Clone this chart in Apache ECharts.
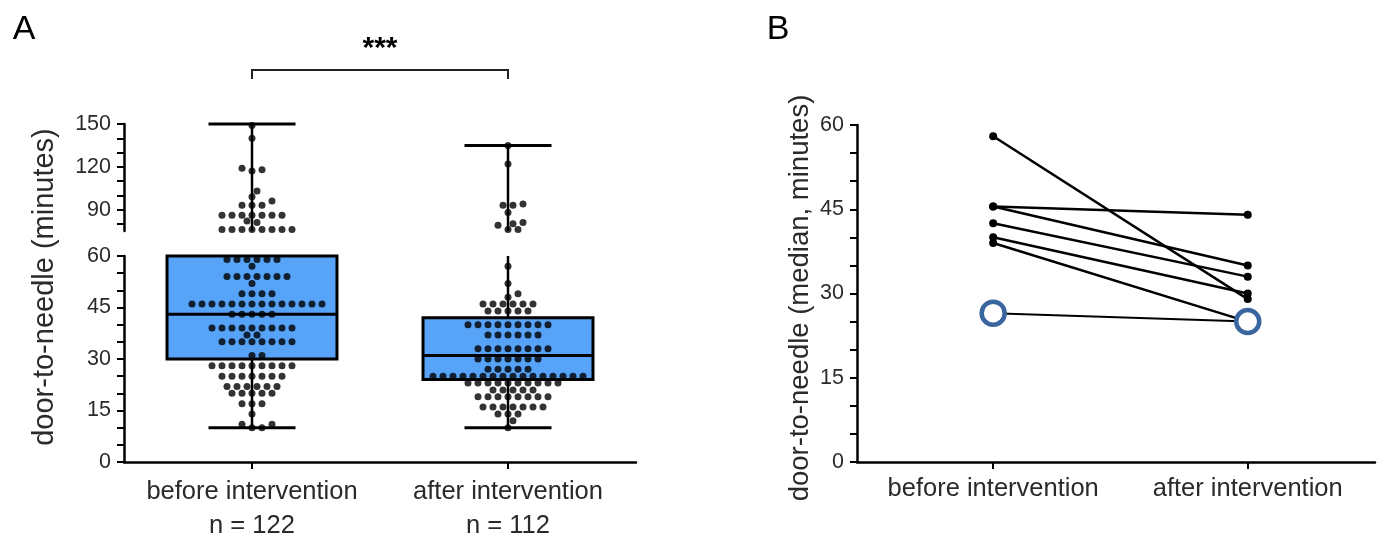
<!DOCTYPE html>
<html>
<head>
<meta charset="utf-8">
<script src="https://cdn.jsdelivr.net/npm/echarts@6/dist/echarts.min.js"></script>
<style>html,body{margin:0;padding:0;background:#fff;}#c{width:1383px;height:538px;}</style>
</head>
<body>
<div id="c"></div>
<script>
// ---------- DATA ----------
const categories = ['before intervention', 'after intervention'];
const nLabels = ['n = 122', 'n = 112'];
// box stats: [min, Q1, median, Q3, max]
const boxBefore = [10, 30, 43, 60, 150];
const boxAfter = [10, 24, 31, 42, 135];
// individual door-to-needle times (minutes)
const dotsBefore = [
  149, 140, 119, 118, 117, 103, 99, 96, 93, 93, 93,
  86, 86, 86, 86, 86, 86, 86, 82, 81,
  76, 76, 76, 76, 76, 76, 76, 76,
  59, 59, 59, 59, 59, 59, 57, 54, 54, 54, 54, 54, 54, 54, 52,
  49, 49, 49, 49,
  46, 46, 46, 46, 46, 46, 46, 46, 46, 46, 46, 46, 46, 46,
  43, 43, 43, 43, 43,
  39, 39, 39, 39, 39, 39, 39, 39, 39, 37, 37,
  35, 35, 35, 35, 35, 35, 35, 35, 31, 31,
  28, 28, 28, 28, 28, 28, 28, 28, 28,
  25, 25, 25, 25, 25, 25, 25,
  22, 22, 22, 22, 22, 22, 20, 20, 20, 20, 20,
  17, 17, 17, 14, 11, 11, 10, 10
];
const dotsAfter = [
  135, 122, 94, 93, 93, 88, 81, 80, 79, 76, 76,
  57, 52, 49, 48,
  46, 46, 46, 46, 46, 46, 44, 44, 44, 44, 44,
  40, 40, 40, 40, 40, 40, 40, 40, 40,
  37, 37, 37, 37, 37, 37,
  33, 33, 33, 33, 33, 33, 33, 33,
  30, 30, 30, 30, 30, 30, 30,
  27, 27, 27, 27, 27,
  25, 25, 25, 25, 25, 25, 25, 25, 25, 25, 25, 25, 25, 25, 25, 25,
  23, 23, 23, 23, 23, 23, 23, 23, 23, 23,
  21, 21, 21, 21, 21,
  19, 19, 19, 19, 19, 19, 19, 19,
  16, 16, 16, 16, 16, 16, 16,
  14, 14, 14, 12, 10
];
// panel B: per-site medians (minutes); last site highlighted
const siteMedianBefore = [58, 45.5, 45.5, 42.5, 40, 39, 26.5];
const siteMedianAfter = [29, 44, 35, 33, 30, 25, 25];
const highlightedSite = 6;
// axis ticks
const lowerTicks = [0,5,10,15,20,25,30,35,40,45,50,55,60];
const lowerLabels = [0,15,30,45,60];
const upperTicks = [80,90,100,110,120,130,140,150];
const upperLabels = [90,120,150];
const bTicks = [0,5,10,15,20,25,30,35,40,45,50,55,60];
const bLabels = [0,15,30,45,60];
const significance = '***';

// ---------- CHART ----------
const FONT = "'Liberation Sans', Arial, sans-serif";
const TXT = '#2a2a2a';
const BLUE = '#57a3f8';
const RING = '#3a66a0';
const chart = echarts.init(document.getElementById('c'), null, {renderer: 'canvas'});

const G = {
  lower: {left: 124, top: 256, width: 512, height: 206, min: 0, max: 60},
  upper: {left: 124, top: 124, width: 512, height: 107, min: 75, max: 150},
  b: {left: 857, top: 125, width: 518, height: 337}
};
const pxPerX = G.lower.width / 2;
const pyLower = G.lower.height / (G.lower.max - G.lower.min);
const pyUpper = G.upper.height / (G.upper.max - G.upper.min);

// beeswarm layout: each dot at the closest free horizontal slot to the category centre
function swarm(values, cx, pyScale) {
  const placed = [];
  const out = [];
  const step = 5, D = 7.2;
  values.slice().sort((a, b) => a - b).forEach(v => {
    const y = v * pyScale;
    for (let k = 0; k < 400; k++) {
      const off = k === 0 ? 0 : (k % 2 ? 1 : -1) * Math.ceil(k / 2) * step;
      if (placed.every(p => (p.x - off) ** 2 + (p.y - y) ** 2 >= D * D)) {
        placed.push({x: off, y});
        out.push([cx + off / pxPerX, v]);
        break;
      }
    }
  });
  return out;
}
function split(values, lo, hi) { return values.filter(v => v >= lo && v <= hi); }

function boxRenderer(lo, hi) {
  return function (params, api) {
    const c = api.value(0);
    const mn = api.value(1), q1 = api.value(2), md = api.value(3), q3 = api.value(4), mx = api.value(5);
    const cl = v => Math.max(lo, Math.min(hi, v));
    const bw = 0.332, cw = 0.17;
    const P = (x, y) => api.coord([x, y]);
    const ch = [];
    const ln = (a, b, w) => ch.push({type: 'line', shape: {x1: a[0], y1: a[1], x2: b[0], y2: b[1]}, style: {stroke: '#000', lineWidth: w}});
    if (cl(mn) < cl(q1)) ln(P(c, cl(mn)), P(c, cl(q1)), 2.5);
    if (cl(q3) < cl(mx)) ln(P(c, cl(q3)), P(c, cl(mx)), 2.5);
    if (q3 > lo && q1 < hi) {
      const a = P(c - bw, cl(q3)), b = P(c + bw, cl(q1));
      ch.push({type: 'rect', shape: {x: a[0], y: a[1], width: b[0] - a[0], height: b[1] - a[1]}, style: {fill: BLUE, stroke: '#000', lineWidth: 3}});
    }
    if (md >= lo && md <= hi) ln(P(c - bw, md), P(c + bw, md), 3);
    if (mn >= lo && mn <= hi) ln(P(c - cw, mn), P(c + cw, mn), 3);
    if (mx >= lo && mx <= hi) ln(P(c - cw, mx), P(c + cw, mx), 3);
    return {type: 'group', children: ch};
  };
}

const labelStyle = {color: TXT, fontFamily: FONT};
function yAx(grid, min, max, ticks, labels) {
  return {
    gridIndex: grid, type: 'value', min, max,
    splitLine: {show: false},
    axisLine: {show: true, onZero: false, lineStyle: {color: '#000', width: 2.5}},
    axisTick: {show: true, customValues: ticks, length: 7, lineStyle: {color: '#000', width: 2}},
    axisLabel: Object.assign({customValues: labels, fontSize: 21.5, margin: 13}, labelStyle)
  };
}

const series = [];
const boxData = [[0].concat(boxBefore), [1].concat(boxAfter)];
series.push({type: 'custom', xAxisIndex: 0, yAxisIndex: 0, clip: false, renderItem: boxRenderer(G.lower.min, G.lower.max), data: boxData, encode: {x: 0, y: [1,2,3,4,5]}, z: 2});
series.push({type: 'custom', xAxisIndex: 1, yAxisIndex: 1, clip: false, renderItem: boxRenderer(G.upper.min, G.upper.max), data: boxData, encode: {x: 0, y: [1,2,3,4,5]}, z: 2});
[dotsBefore, dotsAfter].forEach((arr, i) => {
  series.push({type: 'scatter', xAxisIndex: 0, yAxisIndex: 0, symbol: 'circle', symbolSize: 7, itemStyle: {color: '#000'}, z: 5,
    data: swarm(split(arr, G.lower.min, G.lower.max), i, pyLower)});
  series.push({type: 'scatter', xAxisIndex: 1, yAxisIndex: 1, symbol: 'circle', symbolSize: 7, itemStyle: {color: '#000'}, z: 5,
    data: swarm(split(arr, G.upper.min, G.upper.max), i, pyUpper)});
});
siteMedianBefore.forEach((b, i) => {
  const hl = i === highlightedSite;
  series.push({
    type: 'line', xAxisIndex: 2, yAxisIndex: 2,
    data: [[0, b], [1, siteMedianAfter[i]]],
    symbol: 'circle', symbolSize: hl ? 23 : 8,
    itemStyle: hl ? {color: '#fff', borderColor: RING, borderWidth: 4.5} : {color: '#000'},
    lineStyle: {color: '#000', width: hl ? 2 : 2.5},
    z: hl ? 6 : 4
  });
});

const gridOf = g => ({left: g.left, top: g.top, width: g.width, height: g.height, containLabel: false, outerBoundsMode: 'none'});
const option = {
  animation: false,
  backgroundColor: '#fff',
  grid: [gridOf(G.lower), gridOf(G.upper), gridOf(G.b)],
  xAxis: [
    {gridIndex: 0, type: 'value', min: -0.5, max: 1.5, splitLine: {show: false},
     axisLine: {onZero: false, lineStyle: {color: '#000', width: 2.5}},
     axisTick: {customValues: [0, 1], length: 7, lineStyle: {color: '#000', width: 2}},
     axisLabel: Object.assign({customValues: [0, 1], fontSize: 25.5, lineHeight: 34, margin: 13,
       formatter: v => categories[Math.round(v)] + '\n' + nLabels[Math.round(v)]}, labelStyle)},
    {gridIndex: 1, type: 'value', min: -0.5, max: 1.5, show: false},
    {gridIndex: 2, type: 'value', min: -0.535, max: 1.5, splitLine: {show: false},
     axisLine: {onZero: false, lineStyle: {color: '#000', width: 2.5}},
     axisTick: {customValues: [0, 1], length: 7, lineStyle: {color: '#000', width: 2}},
     axisLabel: Object.assign({customValues: [0, 1], fontSize: 25.5, margin: 14,
       formatter: v => categories[Math.round(v)]}, labelStyle)}
  ],
  yAxis: [
    yAx(0, G.lower.min, G.lower.max, lowerTicks, lowerLabels),
    yAx(1, G.upper.min, G.upper.max, upperTicks, upperLabels),
    yAx(2, 0, 60, bTicks, bLabels)
  ],
  series
};
chart.setOption(option);

// annotations
const x0 = chart.convertToPixel({xAxisIndex: 0}, 0);
const x1 = chart.convertToPixel({xAxisIndex: 0}, 1);
const tText = (x, y, text, size, extra) => Object.assign({
  type: 'text', x, y,
  style: {text, fontSize: size, fontFamily: FONT, fill: TXT, align: 'center', verticalAlign: 'middle', textAlign: 'center', textVerticalAlign: 'middle'}
}, extra || {});
const letter = t => ({text: t, fontSize: 34, fontFamily: FONT, fill: '#000', align: 'center', verticalAlign: 'middle'});
chart.setOption({
  graphic: [
    tText(24, 30, 'A', 34, {style: letter('A')}),
    tText(778, 30, 'B', 34, {style: letter('B')}),
    tText(45, 287, 'door-to-needle (minutes)', 29, {rotation: Math.PI / 2}),
    tText(800, 298, 'door-to-needle (median, minutes)', 27.5, {rotation: Math.PI / 2}),
    {type: 'polyline', shape: {points: [[x0, 79], [x0, 70], [x1, 70], [x1, 79]]}, style: {stroke: '#222', lineWidth: 2, fill: null}},
    tText((x0 + x1) / 2, 49, significance, 30, {style: {text: significance, fontSize: 30, fontWeight: 'bold', fontFamily: FONT, fill: '#000', align: 'center', verticalAlign: 'middle'}})
  ]
});
</script>
</body>
</html>
